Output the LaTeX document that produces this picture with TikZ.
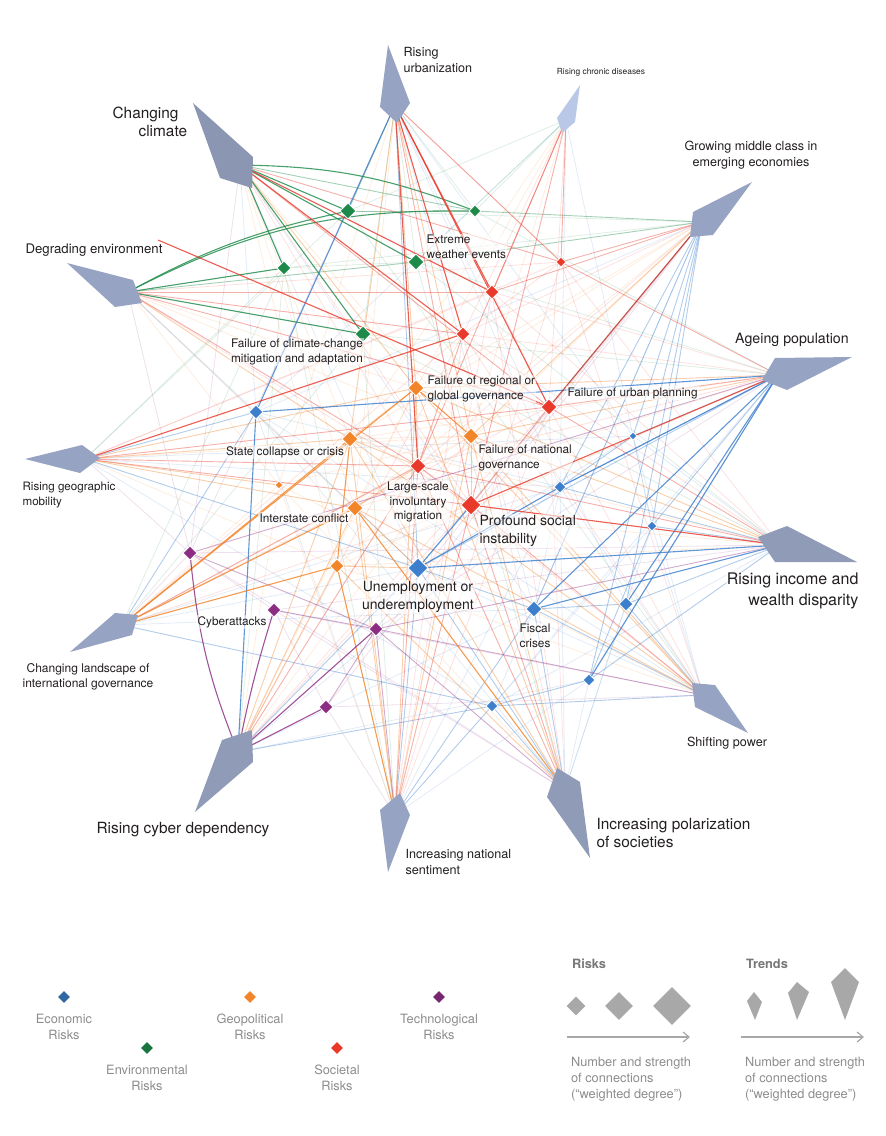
\documentclass[tikz,border=0pt]{standalone}
\usepackage{fontspec}
\setmainfont{TeX Gyre Heros}
\usetikzlibrary{shapes.geometric,arrows.meta}

\definecolor{trendcol}{HTML}{97A3C2}
\definecolor{trendlight}{HTML}{B8C8E6}
\definecolor{ecocol}{HTML}{3D7FCC}
\definecolor{envcol}{HTML}{1E8A4A}
\definecolor{geocol}{HTML}{F2852A}
\definecolor{soccol}{HTML}{E8392B}
\definecolor{teccol}{HTML}{8C2D83}
\definecolor{labcol}{HTML}{231F20}
\definecolor{keygray}{HTML}{8C8C8C}
\definecolor{keyfill}{HTML}{A8A8A8}

\pgfdeclarelayer{links}
\pgfdeclarelayer{kites}
\pgfsetlayers{links,kites,main}

\tikzset{
  risk/.style={diamond, draw=white, line width=0.3pt, inner sep=0pt, minimum size=#1},
  hi/.style={line width=0.55pt, draw opacity=0.82},
  mid/.style={line width=0.45pt, draw opacity=0.4},
  lo/.style={line width=0.4pt, draw opacity=0.15},
  lab/.style={text=labcol, inner sep=0.6pt, fill=white, fill opacity=0.55, text opacity=1},
  risklab/.style={lab, font=\fontsize{5.9}{7.4}\selectfont},
  bigrisklab/.style={lab, font=\fontsize{7}{9}\selectfont},
  trendlab/.style={lab, font=\fontsize{6.3}{8}\selectfont},
  bigtrendlab/.style={lab, font=\fontsize{7.7}{9.3}\selectfont},
  keylab/.style={text=keygray, font=\fontsize{6.4}{8}\selectfont, align=center},
}

\begin{document}
\begin{tikzpicture}[x=0.5pt, y=-0.5pt]
\useasboundingbox (0,0) rectangle (886,1136);

% trends (anchor points, kites are drawn over them)
\coordinate (urban) at (395,105);
\coordinate (climate) at (240,165);
\coordinate (chronic) at (566,120);
\coordinate (middle) at (702,222);
\coordinate (ageing) at (778,375);
\coordinate (income) at (780,545);
\coordinate (power) at (703,695);
\coordinate (polar) at (565,790);
\coordinate (nation) at (395,815);
\coordinate (cyber) at (238,752);
\coordinate (landsc) at (122,625);
\coordinate (mobil) at (85,459);
\coordinate (environ) at (128,292);
\coordinate (redend) at (158,240);

% risks
\node[risk=8pt, fill=envcol] (env1) at (348,211) {};
\node[risk=6pt, fill=envcol] (env2) at (475,211) {};
\node[risk=7pt, fill=envcol] (env3) at (284,268) {};
\node[risk=8pt, fill=envcol] (weather) at (416,262) {};
\node[risk=8pt, fill=envcol] (climfail) at (363,334) {};
\node[risk=5pt, fill=soccol] (soc1) at (561,262) {};
\node[risk=7pt, fill=soccol] (soc2) at (492,292) {};
\node[risk=7pt, fill=soccol] (soc3) at (463,334) {};
\node[risk=8pt, fill=soccol] (urbanfail) at (549,407) {};
\node[risk=8pt, fill=soccol] (migration) at (418,466) {};
\node[risk=10pt, fill=soccol] (instab) at (471,505) {};
\node[risk=8pt, fill=geocol] (regional) at (416,388) {};
\node[risk=8pt, fill=geocol] (collapse) at (350,439) {};
\node[risk=8pt, fill=geocol] (national) at (471,436) {};
\node[risk=4pt, fill=geocol] (geo4) at (279,485) {};
\node[risk=8pt, fill=geocol] (interstate) at (355,508) {};
\node[risk=7pt, fill=geocol] (geo6) at (337,566) {};
\node[risk=7pt, fill=ecocol] (eco1) at (256,412) {};
\node[risk=4pt, fill=ecocol] (eco2) at (633,436) {};
\node[risk=6pt, fill=ecocol] (eco3) at (560,487) {};
\node[risk=5pt, fill=ecocol] (eco4) at (652,526) {};
\node[risk=10pt, fill=ecocol] (unemploy) at (418,568) {};
\node[risk=8pt, fill=ecocol] (fiscal) at (534,609) {};
\node[risk=7pt, fill=ecocol] (eco7) at (626,604) {};
\node[risk=6pt, fill=ecocol] (eco8) at (589,680) {};
\node[risk=6pt, fill=ecocol] (eco9) at (492,706) {};
\node[risk=7pt, fill=teccol] (tec1) at (190,553) {};
\node[risk=7pt, fill=teccol] (cyberatt) at (274,610) {};
\node[risk=7pt, fill=teccol] (tec3) at (376,629) {};
\node[risk=7pt, fill=teccol] (tec4) at (326,707) {};

\begin{pgfonlayer}{links}
% faint connections
\foreach \a/\b in {urban/eco2, urban/eco3, urban/fiscal, climate/eco1, climate/unemploy, chronic/eco3, chronic/eco1,
  middle/eco1, middle/unemploy, middle/eco9, ageing/eco9, income/eco2, income/eco9, power/eco2, power/eco3,
  power/eco4, power/unemploy, polar/eco3, polar/eco4, polar/eco7, polar/eco8, nation/eco3, nation/eco8, nation/eco1,
  cyber/eco3, cyber/fiscal, cyber/eco8, landsc/unemploy, landsc/eco3, landsc/fiscal, mobil/eco3, mobil/eco9, mobil/eco2,
  environ/eco1, environ/unemploy, eco1/eco3, eco2/eco4, eco3/fiscal, eco4/eco9, eco2/unemploy, eco1/unemploy,
  chronic/eco4, urban/eco7, climate/fiscal, power/eco1, polar/eco1, ageing/eco8}
  \draw[lo, ecocol] (\a) -- (\b);
\foreach \a/\b in {urban/env2, urban/weather, urban/climfail, chronic/env2, chronic/weather, chronic/env1, middle/env1,
  middle/env3, ageing/env2, ageing/weather, income/weather, income/climfail, polar/weather, nation/climfail, nation/env3,
  mobil/env3, mobil/env1, landsc/climfail, landsc/env3, cyber/env3, env3/weather, power/env1, ageing/climfail}
  \draw[lo, envcol] (\a) -- (\b);
\foreach \a/\b in {urban/geo4, urban/interstate, climate/collapse, climate/national, climate/interstate, chronic/regional,
  chronic/national, middle/regional, middle/collapse, middle/interstate, ageing/collapse, ageing/interstate, ageing/geo6,
  income/collapse, income/interstate, income/geo6, power/geo6, power/geo4, polar/geo4, nation/geo4, cyber/regional,
  cyber/national, cyber/geo4, landsc/national, landsc/geo4, mobil/national, mobil/geo6, environ/regional,
  environ/interstate, environ/national, environ/geo4, regional/interstate, collapse/national, national/interstate,
  geo4/national, chronic/collapse, middle/geo6, climate/geo6}
  \draw[lo, geocol] (\a) -- (\b);
\foreach \a/\b in {urban/soc1, climate/migration, climate/instab, chronic/soc3, chronic/urbanfail, middle/soc3,
  middle/migration, middle/instab, ageing/soc2, ageing/soc3, ageing/migration, income/soc1, income/soc2, income/soc3,
  power/migration, power/urbanfail, power/soc3, polar/soc3, polar/urbanfail, polar/soc2, nation/soc3, nation/urbanfail,
  nation/soc2, cyber/instab, cyber/soc3, landsc/instab, landsc/soc3, mobil/soc2, mobil/soc1, environ/soc1,
  environ/instab, soc1/soc3, soc2/urbanfail, landsc/urbanfail, cyber/urbanfail, power/soc1, nation/soc1}
  \draw[lo, soccol] (\a) -- (\b);
\foreach \a/\b in {landsc/tec1, mobil/tec1, environ/tec1, ageing/tec3, middle/tec3, income/tec1, polar/tec1,
  polar/cyberatt, nation/tec4, power/cyberatt, urban/tec1, climate/tec1, tec1/cyberatt, cyberatt/tec4, middle/tec4,
  power/tec4, income/cyberatt}
  \draw[lo, teccol] (\a) -- (\b);

% medium connections
\foreach \a/\b in {urban/unemploy, middle/eco2, middle/eco3, middle/eco4, middle/fiscal, middle/eco7, middle/eco8,
  ageing/eco2, ageing/eco3, ageing/eco4, ageing/unemploy, income/eco3, income/eco4, income/eco7, income/eco8,
  power/fiscal, power/eco7, power/eco9, polar/unemploy, polar/fiscal, polar/eco9, nation/unemploy, nation/fiscal,
  nation/eco9, landsc/eco1, mobil/unemploy, mobil/eco1, cyber/eco9, cyber/unemploy, fiscal/eco7, eco9/eco8,
  unemploy/fiscal, eco8/eco4, eco2/eco3, landsc/eco9}
  \draw[mid, ecocol] (\a) -- (\b);
\foreach \a/\b in {environ/weather, middle/env2, middle/weather, urban/env1, env1/env2, climate/env2}
  \draw[mid, envcol] (\a) -- (\b);
\foreach \a/\b in {mobil/collapse, mobil/geo4, mobil/interstate, mobil/regional, environ/collapse, climate/regional,
  urban/regional, urban/national, urban/collapse, middle/national, ageing/regional, ageing/national, income/national,
  income/regional, power/collapse, power/interstate, power/national, power/regional, polar/collapse, polar/regional,
  polar/national, polar/geo6, nation/collapse, nation/interstate, nation/national, nation/regional, cyber/collapse,
  cyber/interstate, cyber/geo6, collapse/migration, interstate/migration, national/instab, regional/migration,
  geo6/unemploy, collapse/regional, interstate/unemploy}
  \draw[mid, geocol] (\a) -- (\b);
\foreach \a/\b in {environ/soc2, environ/soc3, environ/urbanfail, environ/migration, mobil/migration, mobil/instab,
  mobil/urbanfail, chronic/soc1, chronic/soc2, chronic/migration, chronic/instab, middle/soc1, middle/soc2,
  ageing/urbanfail, ageing/soc1, income/migration, income/urbanfail, polar/instab, polar/migration, nation/instab,
  nation/migration, power/instab, climate/urbanfail, climate/soc1, migration/instab, urbanfail/instab,
  cyber/migration, landsc/migration, urban/instab, urban/soc1, soc3/migration}
  \draw[mid, soccol] (\a) -- (\b);
\foreach \a/\b in {tec3/polar, tec3/income, cyberatt/tec3, tec4/tec3, nation/tec3, ageing/tec1, tec1/tec3, tec3/power}
  \draw[mid, teccol] (\a) -- (\b);

% strong connections
\foreach \a/\b in {unemploy/income, unemploy/eco3, eco1/ageing, cyber/eco1, urban/eco1, fiscal/ageing, eco7/ageing,
  eco8/ageing, fiscal/income, unemploy/instab, eco3/ageing}
  \draw[hi, ecocol] (\a) -- (\b);
\foreach \a/\b in {climate/env1, climate/weather, climate/climfail, climate/env3, environ/env3, environ/climfail}
  \draw[hi, envcol] (\a) -- (\b);
\draw[hi, envcol] (climate) to[bend left=10] (env2);
\draw[hi, envcol] (environ) to[bend left=14] (env2);
\draw[hi, envcol] (environ) to[bend left=8] (env1);
\foreach \a/\b in {landsc/collapse, landsc/interstate, landsc/geo6, landsc/regional, polar/interstate,
  nation/geo6, regional/national, collapse/geo6}
  \draw[hi, geocol] (\a) -- (\b);
\foreach \a/\b in {climate/soc2, climate/soc3, urban/soc3, urban/soc2, urban/migration, urban/urbanfail,
  instab/income, instab/ageing, redend/urbanfail, mobil/soc3}
  \draw[hi, soccol] (\a) -- (\b);
\draw[hi, soccol!80!black] (middle) -- (urbanfail);
\draw[hi, teccol] (cyber) to[bend left=8] (tec1);
\draw[hi, teccol] (cyber) to[bend left=3] (cyberatt);
\foreach \a/\b in {cyber/tec4, cyber/tec3}
  \draw[hi, teccol] (\a) -- (\b);
\end{pgfonlayer}

% trend kites
\begin{pgfonlayer}{kites}
\fill[trendcol] (388,45) -- (410,103) -- (397,123) -- (380,107) -- cycle;
\fill[trendcol!92!black] (193,103) -- (253,157) -- (252,188) -- (220,178) -- cycle;
\fill[trendlight] (580,85) -- (575,122) -- (562,133) -- (557,118) -- cycle;
\fill[trendcol] (752,182) -- (713,235) -- (690,237) -- (693,212) -- cycle;
\fill[trendcol] (852,357) -- (787,390) -- (762,380) -- (775,358) -- cycle;
\fill[trendcol!95!black] (857,562) -- (775,562) -- (758,537) -- (787,526) -- cycle;
\fill[trendcol] (692,683) -- (715,685) -- (748,733) -- (695,707) -- cycle;
\fill[trendcol!95!black] (557,768) -- (580,782) -- (590,858) -- (547,797) -- cycle;
\fill[trendcol] (400,793) -- (410,815) -- (388,872) -- (380,810) -- cycle;
\fill[trendcol!95!black] (222,740) -- (252,730) -- (253,762) -- (195,812) -- cycle;
\fill[trendcol] (138,615) -- (132,635) -- (70,652) -- (115,613) -- cycle;
\fill[trendcol] (25,459) -- (82,445) -- (100,458) -- (80,473) -- cycle;
\fill[trendcol] (67,263) -- (133,280) -- (142,303) -- (115,307) -- cycle;
\end{pgfonlayer}

% trend labels
\node[trendlab, anchor=west, align=left] (l-urban) at (402,60) {Rising\\urbanization};
\node[bigtrendlab, anchor=west, align=left] (l-climate) at (111,122) {Changing\\\hspace*{13pt}climate};
\node[lab, font=\fontsize{4.2}{5}\selectfont] (l-chronic) at (601,72) {Rising chronic diseases};
\node[trendlab, align=center] (l-middle) at (751,155) {Growing middle class in\\emerging economies};
\node[lab, font=\fontsize{7.1}{8.5}\selectfont] (l-ageing) at (792,340) {Ageing population};
\node[lab, font=\fontsize{8}{10.5}\selectfont, anchor=east, align=right] (l-income) at (860,591) {Rising income and\\wealth disparity};
\node[trendlab] (l-power) at (727,743) {Shifting power};
\node[bigtrendlab, anchor=west, align=left] (l-polar) at (595,833) {Increasing polarization\\of societies};
\node[trendlab, anchor=west, align=left] (l-nation) at (404,862) {Increasing national\\sentiment};
\node[bigtrendlab] (l-cyber) at (183,830) {Rising cyber dependency};
\node[lab, font=\fontsize{6}{7.8}\selectfont, align=center] (l-landsc) at (88,677) {Changing landscape of\\international governance};
\node[lab, font=\fontsize{5.8}{7.6}\selectfont, anchor=west, align=left] (l-mobil) at (21,495) {Rising geographic\\mobility};
\node[lab, font=\fontsize{6.6}{8}\selectfont] (l-environ) at (94,250) {Degrading environment};

% risk labels
\node[risklab, anchor=west, align=left] (l-weather) at (425,247) {Extreme\\weather events};
\node[risklab, align=center] (l-climfail) at (297,352) {Failure of climate-change\\mitigation and adaptation};
\node[risklab, anchor=west, align=left] (l-regional) at (426,389) {Failure of regional or\\global governance};
\node[risklab, anchor=west] (l-urbanfail) at (566,393) {Failure of urban planning};
\node[risklab] (l-collapse) at (285,452) {State collapse or crisis};
\node[risklab, anchor=west, align=left] (l-national) at (477,458) {Failure of national\\governance};
\node[risklab, align=center] (l-migration) at (418,502) {Large-scale\\involuntary\\migration};
\node[bigrisklab, anchor=west, align=left] (l-instab) at (478,531) {Profound social\\instability};
\node[risklab] (l-interstate) at (304,518) {Interstate conflict};
\node[bigrisklab, align=center] (l-unemploy) at (418,597) {Unemployment or\\underemployment};
\node[risklab, anchor=west, align=left] (l-fiscal) at (518,636) {Fiscal\\crises};
\node[risklab] (l-cyberatt) at (232,622) {Cyberattacks};

% key: risk categories
\node[risk=6pt, fill=ecocol!80!black, draw=none] (k-eco) at (64,997) {};
\node[risk=6pt, fill=envcol!85!black, draw=none] (k-env) at (147,1048) {};
\node[risk=6pt, fill=geocol, draw=none] (k-geo) at (250,997) {};
\node[risk=6pt, fill=soccol, draw=none] (k-soc) at (337,1048) {};
\node[risk=6pt, fill=teccol!85!black, draw=none] (k-tec) at (439,997) {};
\node[keylab] at (64,1027) {Economic\\Risks};
\node[keylab] at (147,1078) {Environmental\\Risks};
\node[keylab] at (250,1027) {Geopolitical\\Risks};
\node[keylab] at (337,1078) {Societal\\Risks};
\node[keylab] at (439,1027) {Technological\\Risks};

% key: sizes
\node[keylab, text=keygray!85!black, anchor=west] (k-risks) at (565,964) {\textbf{Risks}};
\node[keylab, text=keygray!85!black, anchor=west] (k-trends) at (739,964) {\textbf{Trends}};
\node[risk=9.5pt, fill=keyfill, draw=none] (k-r1) at (576,1006) {};
\node[risk=14pt, fill=keyfill, draw=none] (k-r2) at (619,1006) {};
\node[risk=19pt, fill=keyfill, draw=none] (k-r3) at (672,1006) {};
\fill[keyfill] (754,992) -- (762,1002) -- (755,1020) -- (747,1001) -- cycle;
\fill[keyfill] (797,982) -- (809,992) -- (797,1020) -- (788,993) -- cycle;
\fill[keyfill] (845,968) -- (859,982) -- (845,1020) -- (831,982) -- cycle;
\coordinate (k-a1) at (567,1037);
\coordinate (k-b1) at (690,1037);
\coordinate (k-a2) at (741,1037);
\coordinate (k-b2) at (864,1037);
\draw[keyfill, line width=0.6pt, -{Straight Barb[length=3pt, width=5pt]}] (k-a1) -- (k-b1);
\draw[keyfill, line width=0.6pt, -{Straight Barb[length=3pt, width=5pt]}] (k-a2) -- (k-b2);
\node[keylab, align=left, anchor=north west] at (564,1050) {Number and strength\\of connections\\(“weighted degree”)};
\node[keylab, align=left, anchor=north west] at (738,1050) {Number and strength\\of connections\\(“weighted degree”)};
\end{tikzpicture}
\end{document}
